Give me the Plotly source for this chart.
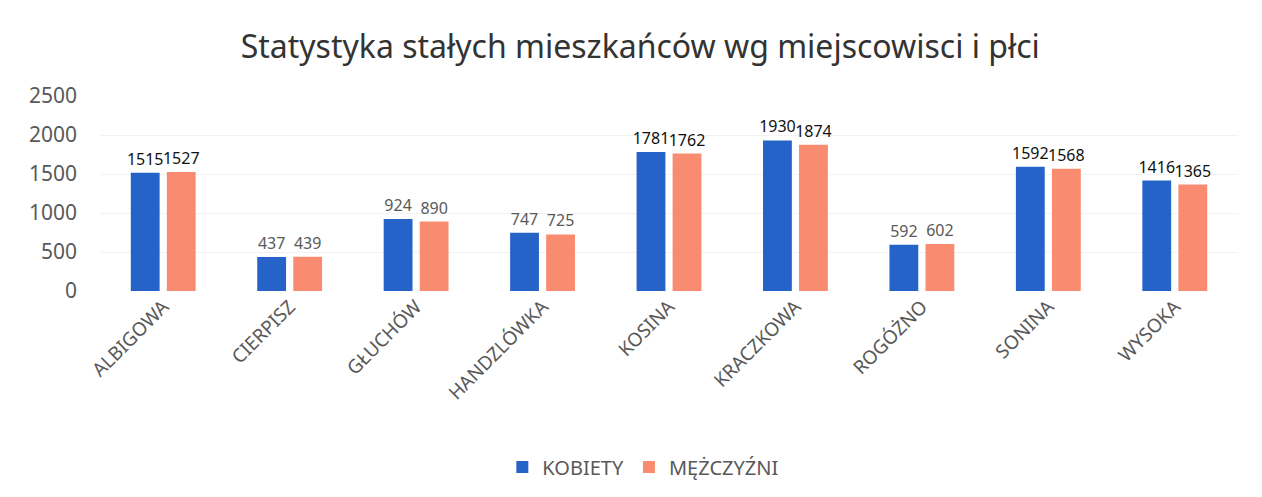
import plotly.graph_objects as go

categories = ["ALBIGOWA", "CIERPISZ", "GŁUCHÓW", "HANDZLÓWKA", "KOSINA",
              "KRACZKOWA", "ROGÓŻNO", "SONINA", "WYSOKA"]
kobiety = [1515, 437, 924, 747, 1781, 1930, 592, 1592, 1416]
mezczyzni = [1527, 439, 890, 725, 1762, 1874, 602, 1568, 1365]
series_names = ["KOBIETY", "MĘŻCZYŹNI"]
y_ticks = [0, 500, 1000, 1500, 2000, 2500]

FONT = "Noto Sans"
BLUE = "#2563C8"
SALMON = "#F98B70"

def label_colors(vals):
    return ["#111111" if v >= 1000 else "#595959" for v in vals]

fig = go.Figure()
for name, vals, col in [(series_names[0], kobiety, BLUE), (series_names[1], mezczyzni, SALMON)]:
    fig.add_trace(go.Bar(
        x=categories, y=vals, name=name, marker=dict(color=col, line=dict(width=0)),
        text=[str(v) for v in vals], textposition="outside", cliponaxis=False,
        constraintext="none",
        textfont=dict(family=FONT, size=16, color=label_colors(vals)),
    ))

fig.update_layout(
    width=1262, height=497,
    paper_bgcolor="white", plot_bgcolor="white",
    margin=dict(l=92, r=32, t=88, b=214),
    barmode="group", bargap=0.43, bargroupgap=0.2,
    title=dict(text="Statystyka stałych mieszkańców wg miejscowisci i płci",
               x=0.501, xanchor="center", y=0.921, yanchor="middle",
               font=dict(family=FONT, size=32, color="#333333")),
    font=dict(family=FONT, color="#595959"),
    xaxis=dict(tickangle=-45, tickfont=dict(family=FONT, size=19, color="#595959"),
               showline=False, showgrid=False, ticks=""),
    yaxis=dict(range=[0, 2500], tickvals=y_ticks, showgrid=True, gridcolor="#f2f2f2",
               zeroline=False, tickfont=dict(family=FONT, size=21, color="#595959"),
               ticklabelstandoff=22),
    legend=dict(orientation="h", x=0.477, xanchor="center", yref="container", y=0.0765,
                yanchor="middle", font=dict(family=FONT, size=20, color="#595959"),
                itemwidth=30, traceorder="normal"),
)

fig.write_html("out.html")
